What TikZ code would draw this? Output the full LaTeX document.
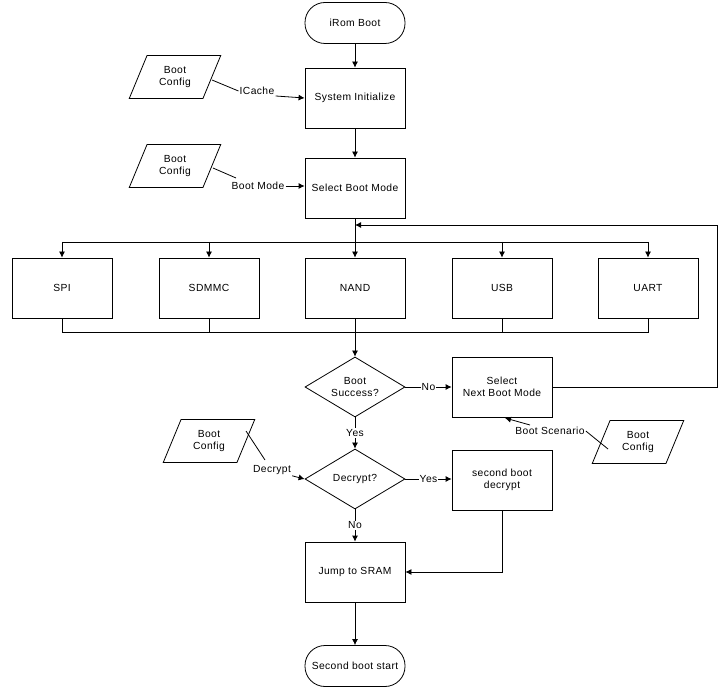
\documentclass[tikz,border=0pt]{standalone}
\usepackage{fontspec}
\setmainfont{Liberation Sans}[LetterSpace=4]
\usetikzlibrary{shapes.geometric,arrows.meta,calc}
\begin{document}
\begin{tikzpicture}[x=1pt,y=-1pt,
  every node/.style={font=\fontsize{10.3}{12.5}\selectfont, align=center},
  proc/.style={draw, line width=0.8pt, minimum width=100pt, minimum height=60pt, inner sep=0pt},
  term/.style={draw, line width=0.8pt, rounded corners=20pt, minimum width=100pt, minimum height=41pt, inner sep=0pt},
  dec/.style={draw, line width=0.8pt, diamond, aspect=1.667, minimum width=100pt, minimum height=60pt, inner sep=0pt},
  cfg/.style={draw, line width=0.8pt, trapezium, trapezium left angle=65, trapezium right angle=115, trapezium stretches=true, minimum width=92pt, minimum height=43pt, inner sep=0pt},
  lbl/.style={inner sep=1pt},
  ln/.style={line width=0.8pt},
  arr/.style={line width=0.8pt, -{Latex[length=6pt,width=6pt]}}
]
\useasboundingbox (0,0) rectangle (726,692);
% main column
\node[term] (irom) at (355,23) {iRom Boot};
\node[proc] (sys) at (355,98) {System Initialize};
\node[proc] (sel) at (355,188) {Select Boot Mode};
\node[proc] (spi) at (62,288) {SPI};
\node[proc] (sdmmc) at (209,288) {SDMMC};
\node[proc] (nand) at (355,288) {NAND};
\node[proc] (usb) at (502,288) {USB};
\node[proc] (uart) at (648,288) {UART};
\node[dec] (bs) at (355,387) {Boot\\Success?};
\node[proc] (next) at (502,387) {Select\\Next Boot Mode};
\node[dec] (dc) at (355,479) {Decrypt?};
\node[proc] (sbd) at (502,480) {second boot\\decrypt};
\node[proc] (jmp) at (355,572) {Jump to SRAM};
\node[term] (end) at (355,666) {Second boot start};
% configs
\node[cfg] (c1) at (175,77) {Boot\\Config};
\node[cfg] (c2) at (175,166) {Boot\\Config};
\node[cfg] (c3) at (209,441) {Boot\\Config};
\node[cfg] (c4) at (638,442) {Boot\\Config};
% labels
\node[lbl] (l1) at (257,91) {ICache};
\node[lbl] (l2) at (258,186) {Boot Mode};
\node[lbl] (l3) at (272,470) {Decrypt};
\node[lbl] (l4) at (550,431) {Boot Scenario};
% coordinates
\coordinate (top) at (355,242);
\coordinate (bot) at (355,332);
\coordinate (loopin) at (355,225);
\coordinate (loopr) at (717,225);
% flow
\draw[arr] (irom) -- (sys);
\draw[arr] (sys) -- (sel);
\draw[arr] (sel) -- (nand);
\draw[ln] (spi.north |- top) -- (uart.north |- top);
\draw[arr] (spi.north |- top) -- (spi.north);
\draw[arr] (sdmmc.north |- top) -- (sdmmc.north);
\draw[arr] (usb.north |- top) -- (usb.north);
\draw[arr] (uart.north |- top) -- (uart.north);
\draw[ln] (spi.south) -- (spi.south |- bot) -- (uart.south |- bot) -- (uart.south);
\draw[ln] (sdmmc.south) -- (sdmmc.south |- bot);
\draw[ln] (usb.south) -- (usb.south |- bot);
\draw[arr] (nand.south) -- (bs.north);
\draw[arr] (bs.east) -- node[fill=white, inner sep=1pt]{No} (next.west);
\draw[arr] (next.east) -- (next.east -| loopr) -- (loopr) -- (loopin);
\draw[arr] (bs.south) -- node[fill=white, inner sep=1pt]{Yes} (dc.north);
\draw[arr] (dc.east) -- node[fill=white, inner sep=1pt]{Yes} (dc.east -| sbd.west);
\draw[arr] (dc.south) -- node[fill=white, inner sep=1pt]{No} (jmp.north);
\draw[arr] (sbd.south) -- (sbd.south |- jmp.east) -- (jmp.east);
\draw[arr] (jmp) -- (end);
% config links
\draw[ln] (212,80) -- (l1.west);
\draw[arr] (l1.south east) -- (sys.west);
\draw[ln] (213,168) -- (236,178);
\draw[arr] (l2.east) -- (sel.west |- l2.east);
\draw[ln] (246,431) -- (265,460);
\draw[arr] (l3.south east) -- (dc.west);
\draw[ln] (608,449) -- (l4.east);
\draw[arr] (530,425) -- (505,418);
\end{tikzpicture}
\end{document}
